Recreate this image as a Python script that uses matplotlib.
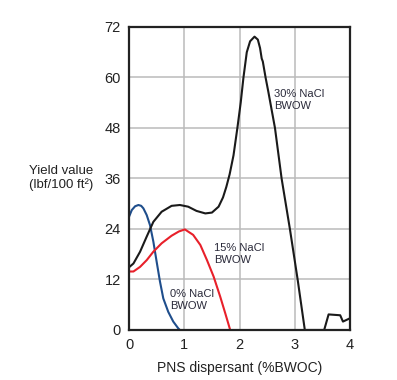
import matplotlib
matplotlib.use("Agg")
import matplotlib.pyplot as plt

plt.rcParams['font.family'] = ['Liberation Sans', 'DejaVu Sans']

# 0% NaCl BWOW (blue)
x_0 = [0.0, 0.05, 0.11, 0.17, 0.22, 0.26, 0.32, 0.38, 0.44, 0.50, 0.56, 0.62, 0.71, 0.80, 0.89, 0.92]
y_0 = [26.9, 28.5, 29.4, 29.7, 29.5, 28.9, 27.3, 24.9, 21.0, 16.2, 11.5, 7.5, 4.3, 2.0, 0.4, 0.0]

# 15% NaCl BWOW (red)
x_15 = [0.0, 0.08, 0.20, 0.32, 0.44, 0.59, 0.77, 0.90, 1.01, 1.16, 1.29, 1.41, 1.53, 1.65, 1.74, 1.83]
y_15 = [13.9, 13.9, 15.0, 16.6, 18.6, 20.6, 22.4, 23.4, 23.9, 22.6, 20.2, 16.6, 12.7, 7.9, 4.0, 0.0]

# 30% NaCl BWOW (black)
x_30 = [0.0, 0.08, 0.20, 0.32, 0.44, 0.59, 0.77, 0.92, 1.07, 1.22, 1.38, 1.50, 1.62, 1.70, 1.76,
        1.82, 1.89, 1.96, 2.02, 2.07, 2.13, 2.19, 2.27, 2.33, 2.37, 2.40, 2.42, 2.47, 2.52, 2.58,
        2.64, 2.76, 2.91, 3.05, 3.18, 3.53, 3.61, 3.82, 3.87, 4.0]
y_30 = [14.9, 15.8, 18.6, 22.2, 25.7, 28.1, 29.5, 29.7, 29.3, 28.3, 27.7, 27.9, 29.3, 31.5, 34.0,
        37.0, 41.5, 48.0, 54.0, 60.0, 66.0, 68.6, 69.7, 69.0, 67.0, 64.5, 63.8, 60.0, 56.6, 52.3,
        48.0, 36.0, 24.0, 12.0, 0.0, 0.0, 3.7, 3.5, 2.0, 2.8]

x_ticks = [0, 1, 2, 3, 4]
y_ticks = [0, 12, 24, 36, 48, 60, 72]

fig = plt.figure(figsize=(3.97, 3.80), dpi=100)
ax = fig.add_axes([0.325, 0.1316, 0.557, 0.7974])

ax.plot(x_0, y_0, color='#1f4e8c', lw=1.5, solid_joinstyle='round')
ax.plot(x_15, y_15, color='#e8202a', lw=1.5, solid_joinstyle='round')
ax.plot(x_30, y_30, color='#1a1a1a', lw=1.5, solid_joinstyle='round')

ax.set_xlim(0, 4)
ax.set_ylim(0, 72)
ax.set_xticks(x_ticks)
ax.set_yticks(y_ticks)
ax.grid(True, color='#bbbbbb', lw=1.1)
ax.set_axisbelow(True)
ax.tick_params(length=0, pad=6, labelsize=10.5, colors='#222222')
for s in ax.spines.values():
    s.set_linewidth(1.6)
    s.set_color('#222222')

ax.set_xlabel("PNS dispersant (%BWOC)", fontsize=10, color='#222222', labelpad=6)
fig.text(0.073, 0.532, "Yield value\n(lbf/100 ft²)", fontsize=9.5, color='#222222',
         ha='left', va='center', linespacing=1.15)

txt = dict(fontsize=8, color='#2a2a3a', linespacing=1.25, va='center', ha='left')
ax.text(2.62, 54.6, "30% NaCl\nBWOW", **txt)
ax.text(1.54, 18.0, "15% NaCl\nBWOW", **txt)
ax.text(0.74, 7.1, "0% NaCl\nBWOW", **txt)

fig.savefig("out.png", dpi=100)
